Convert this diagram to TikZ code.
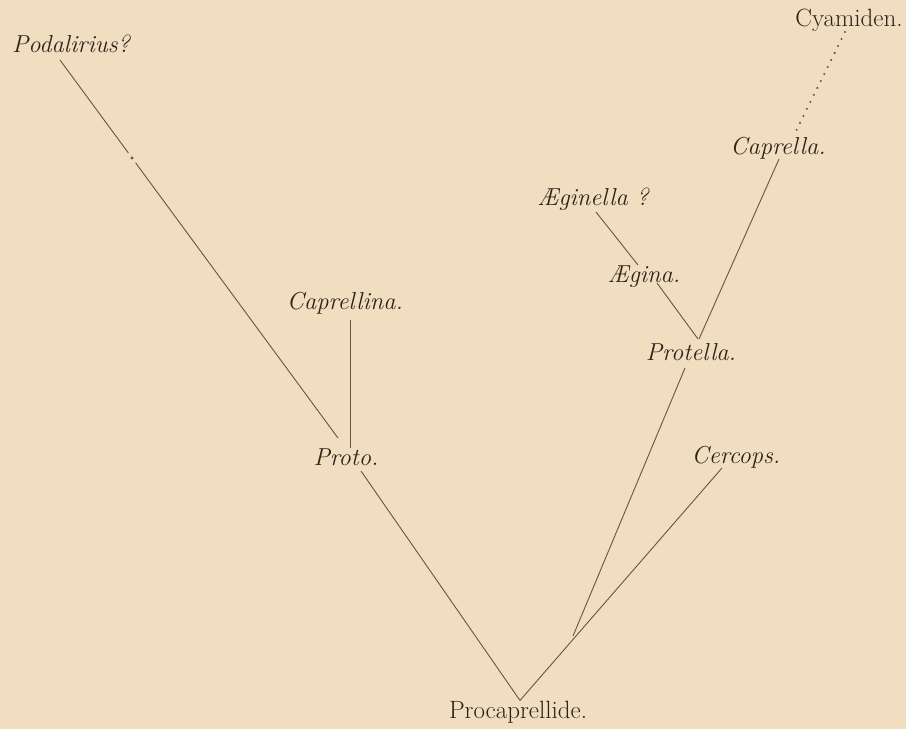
\documentclass[tikz,border=0pt]{standalone}
\usetikzlibrary{calc, positioning}
\definecolor{paper}{RGB}{241,221,192}
\definecolor{ink}{RGB}{45,35,25}
\definecolor{pencil}{RGB}{100,86,70}
\tikzstyle{taxon} = [font={\fontsize{24.5}{29}\selectfont\itshape}, text=ink, anchor=base, inner sep=0pt]
\tikzstyle{group} = [font={\fontsize{25}{30}\selectfont}, text=ink, anchor=base, inner sep=0pt]
\tikzstyle{branch} = [draw=pencil, line width=0.9pt]
\tikzstyle{doubtful} = [draw=pencil, line width=2.3pt, line cap=round, dash pattern=on 0pt off 7.8pt]
\begin{document}
\begin{tikzpicture}[x=1pt,y=-1pt]
\fill [paper] (0,0) rectangle (906,729);
\useasboundingbox (0,0) rectangle (906,729);

\node [group] (procap) at (518,718) {Procaprellide.};
\node [taxon] (proto) at (346,465) {Proto.};
\node [taxon] (caprellina) at (345,309) {Caprellina.};
\node [taxon] (podalirius) at (71,52) {Podalirius?};
\node [taxon] (cercops) at (736,463) {Cercops.};
\node [taxon] (protella) at (691,360) {Protella.};
\node [taxon] (aegina) at (644,282) {Ægina.};
\node [taxon] (aeginella) at (593,205) {Æginella ?};
\node [taxon] (caprella) at (778,154) {Caprella.};
\node [group] (cyamiden) at (849,26) {Cyamiden.};
\coordinate (stub) at (573,636);
\coordinate (podtop) at ([xshift=-11pt,yshift=-8pt]podalirius.base);
\coordinate (podend) at ([xshift=-8pt,yshift=27pt]proto.base);

\draw [branch] ([xshift=15pt,yshift=-6pt]proto.base) -- ([xshift=2pt]procap.north);
\draw [branch] ([xshift=-14pt,yshift=-5pt]cercops.base) -- ([xshift=2pt]procap.north);
\draw [branch] ([xshift=-6pt,yshift=-8pt]protella.base) -- (stub);
\draw [branch] ([xshift=5pt,yshift=-11pt]caprellina.base) -- ([xshift=4pt,yshift=17pt]proto.base);
\draw [branch] (podtop) -- ($(podtop)!0.246!(podend)$);
\draw [branch] ($(podtop)!0.272!(podend)$) -- (podend);
\draw [branch] ([xshift=3pt,yshift=-7pt]aeginella.base) -- ([xshift=-6pt,yshift=17pt]aegina.base);
\draw [branch] ([xshift=13pt,yshift=-1pt]aegina.base) -- ([xshift=7pt,yshift=21pt]protella.base);
\draw [branch] ([xshift=1pt,yshift=-5pt]caprella.base) -- ([xshift=8pt,yshift=21pt]protella.base);
\draw [doubtful] ([xshift=-4pt,yshift=-6pt]cyamiden.base) -- ([xshift=17pt,yshift=21pt]caprella.base);

\fill [pencil] ($(podtop)!0.259!(podend)$) circle [radius=1.6pt];
\end{tikzpicture}
\end{document}
